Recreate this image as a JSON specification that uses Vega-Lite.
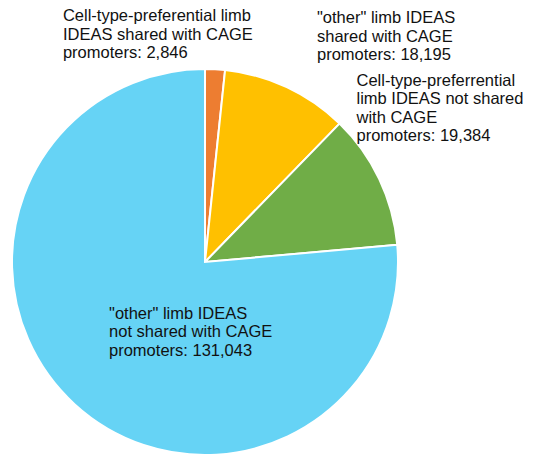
{
  "$schema": "https://vega.github.io/schema/vega-lite/v6.json",
  "width": 386,
  "height": 386,
  "autosize": {"type": "none"},
  "padding": {"left": 12, "top": 69, "right": 145, "bottom": 2},
  "background": "white",
  "config": {"view": {"stroke": null}, "text": {"font": "Liberation Sans"}},
  "data": {
    "values": [
      {"group": "Cell-type-preferential, shared", "value": 2846, "label": "Cell-type-preferential limb\nIDEAS shared with CAGE\npromoters: 2,846"},
      {"group": "other, shared", "value": 18195, "label": "\"other\" limb IDEAS\nshared with CAGE\npromoters: 18,195"},
      {"group": "Cell-type-preferential, not shared", "value": 19384, "label": "Cell-type-preferrential\nlimb IDEAS not shared\nwith CAGE\npromoters: 19,384"},
      {"group": "other, not shared", "value": 131043, "label": "\"other\" limb IDEAS\nnot shared with CAGE\npromoters: 131,043"}
    ]
  },
  "encoding": {
    "theta": {"field": "value", "type": "quantitative", "stack": true},
    "order": {"field": "value", "type": "quantitative", "sort": "ascending"}
  },
  "layer": [
    {
      "mark": {"type": "arc", "stroke": "white", "strokeWidth": 2},
      "encoding": {
        "color": {
          "field": "group",
          "type": "nominal",
          "scale": {
            "domain": ["Cell-type-preferential, shared", "other, shared", "Cell-type-preferential, not shared", "other, not shared"],
            "range": ["#ED7D31", "#FFC000", "#70AD47", "#66D3F5"]
          },
          "legend": null
        }
      }
    },
    {
      "mark": {"type": "text", "radius": 210, "align": "left", "baseline": "alphabetic", "dx": -153, "dy": -31, "fontSize": 16.5, "lineHeight": 18.5, "lineBreak": "\n", "color": "#111111"},
      "encoding": {"text": {"condition": {"test": "datum.group == 'Cell-type-preferential, shared'", "field": "label"}, "value": ""}}
    },
    {
      "mark": {"type": "text", "radius": 230, "align": "left", "baseline": "alphabetic", "dx": 14.5, "dy": -30.2, "fontSize": 16.5, "lineHeight": 18.5, "lineBreak": "\n", "color": "#111111"},
      "encoding": {"text": {"condition": {"test": "datum.group == 'other, shared'", "field": "label"}, "value": ""}}
    },
    {
      "mark": {"type": "text", "radius": 215, "align": "left", "baseline": "alphabetic", "dx": -42.6, "dy": -83.8, "fontSize": 16.5, "lineHeight": 18.5, "lineBreak": "\n", "color": "#111111"},
      "encoding": {"text": {"condition": {"test": "datum.group == 'Cell-type-preferential, not shared'", "field": "label"}, "value": ""}}
    },
    {
      "mark": {"type": "text", "radius": 100, "align": "left", "baseline": "alphabetic", "dx": -28.5, "dy": -17.3, "fontSize": 16.5, "lineHeight": 18.5, "lineBreak": "\n", "color": "#111111"},
      "encoding": {"text": {"condition": {"test": "datum.group == 'other, not shared'", "field": "label"}, "value": ""}}
    }
  ]
}
